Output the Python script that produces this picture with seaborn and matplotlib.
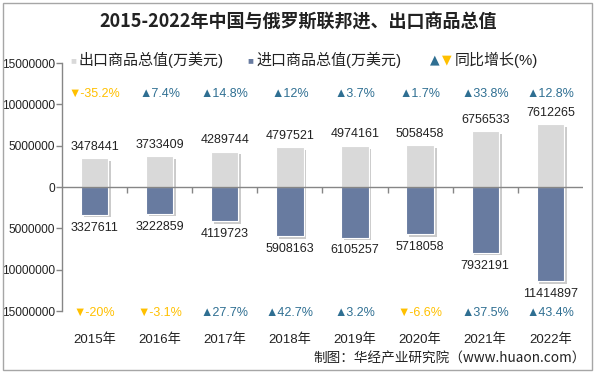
import matplotlib
matplotlib.use("Agg")
import matplotlib.pyplot as plt
import matplotlib.patheffects as pe
from matplotlib.ticker import FuncFormatter
import seaborn as sns
import pandas as pd

years = ["2015年", "2016年", "2017年", "2018年", "2019年", "2020年", "2021年", "2022年"]
exports = [3478441, 3733409, 4289744, 4797521, 4974161, 5058458, 6756533, 7612265]
imports = [3327611, 3222859, 4119723, 5908163, 6105257, 5718058, 7932191, 11414897]
export_growth = [-35.2, 7.4, 14.8, 12, 3.7, 1.7, 33.8, 12.8]
import_growth = [-20, -3.1, 27.7, 42.7, 3.2, -6.6, 37.5, 43.4]
yticks = [-15000000, -10000000, -5000000, 0, 5000000, 10000000, 15000000]

sns.set_theme(style="white")
plt.rcParams["font.family"] = ["Liberation Sans", "Noto Sans CJK SC", "DejaVu Sans"]

EXP_C = "#d9d9d9"
IMP_C = "#687ba0"
UP_C = "#2f6f92"
DN_C = "#ffc000"
AX_C = "#868686"

fig = plt.figure(figsize=(5.96, 3.73), dpi=100)
ax = fig.add_axes([0.104, 0.166, 0.874, 0.665])

df = pd.DataFrame({"year": years, "exp": exports,
                   "imp": [-v for v in imports]})

shadow = [pe.SimplePatchShadow(offset=(2, -2), shadow_rgbFace="#999999", alpha=0.5), pe.Normal()]
sns.barplot(data=df, x="year", y="exp", color=EXP_C, width=0.42, ax=ax,
            saturation=1, edgecolor="white", linewidth=0.8)
sns.barplot(data=df, x="year", y="imp", color=IMP_C, width=0.42, ax=ax,
            saturation=1, edgecolor="white", linewidth=0.8)
for p in ax.patches:
    p.set_path_effects(shadow)

ax.set_ylim(-15000000, 15000000)
ax.set_xlim(-0.5, 7.5)
ax.set_yticks(yticks)
ax.yaxis.set_major_formatter(FuncFormatter(lambda v, _: f"{abs(int(v))}"))
ax.set_xlabel("")
ax.set_ylabel("")
for s in ["top", "right", "bottom"]:
    ax.spines[s].set_visible(False)
ax.spines["left"].set_color(AX_C)
ax.spines["left"].set_linewidth(1)
ax.tick_params(axis="y", which="both", left=True, length=4, width=1, color=AX_C,
               labelsize=8.6, labelcolor="#222222", pad=1)
ax.tick_params(axis="x", bottom=False, labelsize=9.5, labelcolor="#222222", pad=10)

# zero line with small ticks between categories
ax.axhline(0, color=AX_C, lw=1, zorder=3)
bounds = [i + 0.5 for i in range(len(years) - 1)]
ax.plot(bounds, [0] * len(bounds), linestyle="none", marker=3, markersize=4,
        color=AX_C, markeredgewidth=1, zorder=3)

# value labels
for i, (e, m) in enumerate(zip(exports, imports)):
    ax.annotate(f"{e}", (i, e), xytext=(0, 4), textcoords="offset points",
                ha="center", va="bottom", fontsize=9, color="#222222")
    ax.annotate(f"{m}", (i, -m), xytext=(0, -5), textcoords="offset points",
                ha="center", va="top", fontsize=9, color="#222222")

# growth labels
def gtxt(v):
    s = f"{v:g}%"
    return ("▲" + s, UP_C) if v >= 0 else ("▼" + s, DN_C)

for i, (g1, g2) in enumerate(zip(export_growth, import_growth)):
    t, c = gtxt(g1)
    ax.text(i, 11300000, t, ha="center", va="center", fontsize=9, color=c)
    t, c = gtxt(g2)
    ax.text(i, -15200000, t, ha="center", va="center", fontsize=9, color=c)

# title
fig.text(0.5, 0.94, "2015-2022年中国与俄罗斯联邦进、出口商品总值", ha="center", va="center",
         fontsize=13, fontweight="bold", color="#222222",
         family=["Noto Sans CJK SC", "DejaVu Sans"])

# legend
ly = 1 - 60 / 373
fig.text(70 / 596, ly, "■", ha="left", va="center", fontsize=7, color=EXP_C)
fig.text(78 / 596, ly, "出口商品总值(万美元)", ha="left", va="center", fontsize=10.8, color="#222222")
fig.text(247 / 596, ly, "■", ha="left", va="center", fontsize=7, color=IMP_C)
fig.text(256 / 596, ly, "进口商品总值(万美元)", ha="left", va="center", fontsize=10.8, color="#222222")
fig.text(430 / 596, ly, "▲", ha="left", va="center", fontsize=9, color=UP_C,
         family=["DejaVu Sans"])
fig.text(442 / 596, ly, "▼", ha="left", va="center", fontsize=9, color=DN_C,
         family=["DejaVu Sans"])
fig.text(455 / 596, ly, "同比增长(%)", ha="left", va="center", fontsize=10.8, color="#222222")

# source
fig.text(586 / 596, 1 - 358 / 373, "制图：华经产业研究院（www.huaon.com）", ha="right",
         va="center", fontsize=9.8, color="#222222",
         family=["Noto Sans CJK SC", "DejaVu Sans"])

# frame
frame = plt.Rectangle((3 / 596, 3 / 373), 589 / 596, 367 / 373, transform=fig.transFigure,
                      fill=False, edgecolor="#a6a6a6", lw=1)
fig.patches.append(frame)

fig.savefig("out.png", dpi=100)
